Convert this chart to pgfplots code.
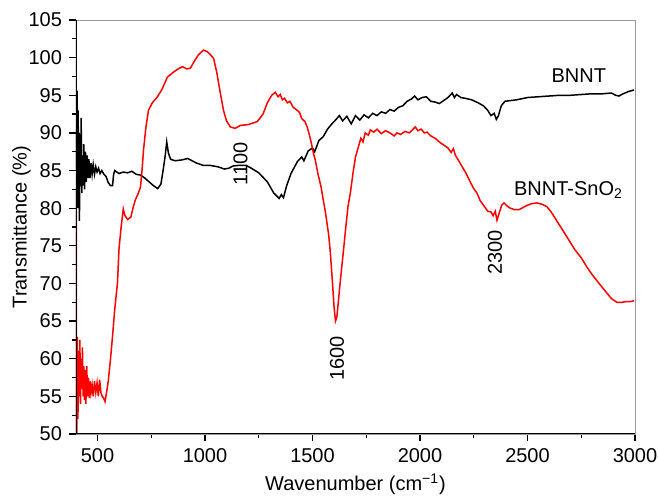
\documentclass[border=0pt]{standalone}
\usepackage{fontspec}
\setmainfont{Liberation Sans}
\usepackage{pgfplots}
\pgfplotsset{compat=1.18}

\pgfplotstableread{
x y
402 85.0
405 95.6
408 80.0
410 93.0
412 84.0
414 90.0
416 78.3
418 88.0
421 83.0
424 92.0
427 82.0
430 87.0
433 83.0
436 88.5
440 82.5
444 87.5
448 83.5
452 87.0
456 84.0
460 86.5
465 84.0
470 86.0
475 84.5
480 85.8
486 84.5
492 85.5
498 84.8
505 85.3
512 84.6
520 85.0
530 84.5
540 84.2
550 83.4
560 83.0
570 83.0
575 84.5
580 85.0
600 84.6
620 84.8
640 84.7
660 84.9
680 84.5
700 84.4
720 84.0
740 83.5
760 83.0
780 82.6
795 83.2
805 85.0
815 87.0
822 88.8
830 87.3
840 86.5
860 86.3
890 86.4
920 86.6
940 86.3
960 86.0
990 85.7
1020 85.7
1060 85.5
1090 85.2
1110 85.3
1130 85.6
1160 85.7
1190 85.7
1210 85.4
1250 84.7
1290 83.5
1320 82.0
1345 81.3
1355 81.8
1365 81.4
1380 83.0
1400 84.6
1430 86.2
1450 86.8
1460 86.3
1480 87.6
1500 88.0
1510 87.5
1530 89.0
1550 89.5
1570 90.5
1590 91.2
1610 91.8
1625 92.3
1640 91.6
1660 92.2
1680 91.2
1700 92.3
1720 91.7
1740 92.4
1760 92.0
1780 92.6
1800 92.3
1820 92.8
1840 92.6
1860 93.1
1880 92.9
1900 93.4
1920 93.6
1940 94.2
1960 94.5
1975 94.9
1990 94.4
2010 94.7
2030 94.8
2050 94.2
2070 94.1
2090 93.9
2110 94.3
2130 94.7
2150 95.3
2160 94.7
2170 95.1
2190 94.7
2210 94.6
2240 94.4
2270 94.0
2295 93.6
2315 93.0
2330 92.3
2345 92.6
2355 91.8
2365 92.3
2378 93.6
2395 94.2
2450 94.4
2500 94.7
2550 94.8
2600 94.9
2650 95.0
2700 95.0
2750 95.1
2800 95.2
2850 95.2
2890 95.3
2910 95.0
2925 94.9
2945 95.2
2970 95.5
2995 95.7
}\bnnt

\pgfplotstableread{
x y
401 82.7
403 47.0
406 62.9
409 52.0
412 61.0
415 55.0
418 62.5
421 54.0
424 60.0
427 56.0
430 61.5
433 55.0
436 59.0
439 54.5
442 58.5
446 54.0
450 59.0
454 55.0
458 57.5
462 54.8
466 57.0
470 55.5
475 56.5
480 55.0
486 57.0
492 55.5
498 56.8
504 55.0
510 57.2
516 55.5
522 55.0
528 54.8
535 54.3
542 55.5
550 57.0
560 59.8
570 63.0
580 66.5
593 70.1
600 74.6
610 77.5
620 79.9
628 79.0
640 78.5
655 78.8
665 80.0
676 81.1
690 82.0
700 82.8
707 85.0
714 87.7
725 90.7
737 93.0
755 94.0
779 94.8
800 95.8
825 97.4
850 98.0
875 98.5
895 98.8
915 98.5
932 98.6
950 99.5
970 100.4
993 101.0
1010 100.8
1025 100.4
1040 99.9
1055 98.0
1070 95.5
1086 93.0
1100 91.6
1118 90.8
1140 90.6
1165 91.0
1200 91.1
1243 91.5
1270 92.5
1290 94.0
1310 95.0
1327 95.4
1340 94.8
1350 95.1
1360 94.4
1370 94.6
1383 94.0
1395 94.2
1410 93.4
1429 93.0
1440 92.7
1450 91.9
1465 91.5
1475 90.8
1485 89.8
1495 88.6
1505 87.2
1513 86.4
1525 84.6
1540 82.8
1550 81.1
1560 79.5
1575 76.5
1583 74.1
1592 70.5
1600 67.0
1607 65.0
1613 65.5
1620 67.5
1630 70.5
1643 74.1
1655 77.5
1665 80.2
1676 82.0
1690 85.0
1700 86.8
1713 88.1
1725 89.3
1735 88.8
1745 90.0
1760 89.7
1769 90.4
1785 90.1
1800 90.5
1820 89.9
1840 90.3
1860 90.0
1880 89.6
1893 90.0
1910 89.8
1930 90.2
1950 90.0
1965 90.4
1978 90.8
1990 90.3
2005 90.5
2020 90.0
2033 90.1
2050 89.6
2070 89.3
2094 88.7
2110 88.4
2130 88.0
2145 87.4
2155 87.9
2165 87.0
2180 86.3
2196 85.5
2215 84.6
2235 83.4
2250 82.6
2265 82.0
2280 81.0
2300 80.2
2315 79.6
2330 79.5
2340 79.0
2350 79.6
2358 78.4
2370 79.5
2380 80.4
2391 80.7
2405 80.3
2420 80.0
2440 79.8
2460 79.8
2480 80.1
2500 80.4
2520 80.6
2544 80.7
2570 80.5
2590 80.2
2610 79.5
2630 78.6
2650 77.7
2683 76.2
2720 74.5
2750 73.4
2776 72.2
2800 71.2
2830 70.1
2850 69.4
2870 68.7
2890 68.0
2915 67.5
2940 67.5
2960 67.6
2980 67.6
2995 67.7
}\bnntsno

\begin{document}
\begin{tikzpicture}
\begin{axis}[
    scale only axis,
    width=279.5pt, height=207pt,
    xmin=400, xmax=3000,
    ymin=50, ymax=105,
    xtick={500,1000,...,3000},
    ytick={50,55,...,105},
    minor x tick num=1,
    minor y tick num=1,
    tick align=outside,
    xtick pos=left, ytick pos=left,
    major tick length=3.5pt,
    minor tick length=2pt,
    every tick/.style={black, line width=0.6pt},
    axis line style={gray!80, line width=0.4pt},
    ticklabel style={font=\fontsize{10}{12}\selectfont},
    /pgf/number format/assume math mode=true,
    /pgf/number format/1000 sep={},
    label style={font=\fontsize{10}{12}\selectfont},
    xlabel={Wavenumber (cm\textsuperscript{−1})},
    ylabel={Transmittance (\%)},
    xlabel style={yshift=1pt},
    ylabel style={yshift=-8pt},
]
\addplot[black, line width=0.75pt] table[x=x, y=y] {\bnnt};
\addplot[red, line width=0.75pt] table[x=x, y=y] {\bnntsno};
\draw[black, line width=1.2pt] (rel axis cs:0,1) -- (rel axis cs:0,0) -- (rel axis cs:1,0);
\node[anchor=east, font=\fontsize{10}{12}\selectfont] at (axis cs:2898,97.6) {BNNT};
\node[anchor=west, font=\fontsize{10}{12}\selectfont] at (axis cs:2405,82.4) {BNNT-SnO\textsubscript{2}};
\node[rotate=90, font=\fontsize{10}{12}\selectfont] at (axis cs:1165,85.9) {1100};
\node[rotate=90, font=\fontsize{10}{12}\selectfont] at (axis cs:1614,60.0) {1600};
\node[rotate=90, font=\fontsize{10}{12}\selectfont] at (axis cs:2349,74.1) {2300};
\end{axis}
\pgfresetboundingbox
\path (current axis.south west) ++(-38pt,-31.5pt) coordinate (bl);
\path (current axis.north east) ++(11.5pt,10pt) coordinate (tr);
\path[use as bounding box] (bl) rectangle (tr);
\end{tikzpicture}
\end{document}
